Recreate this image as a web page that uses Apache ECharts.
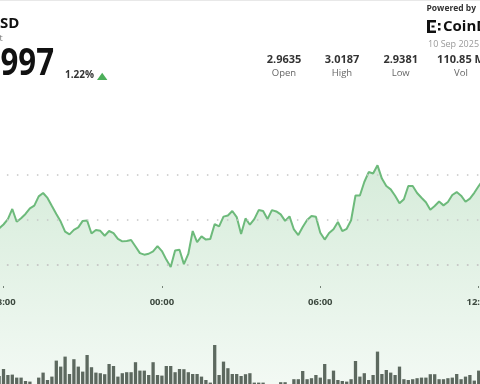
<!DOCTYPE html>
<html><head><meta charset="utf-8">
<script src="https://cdn.jsdelivr.net/npm/echarts@6/dist/echarts.min.js"></script>
<style>html,body{margin:0;padding:0;background:#fff}#c{width:480px;height:384px}</style>
</head><body><div id="c"></div>
<script>
// ---- data ----
const startMinutes = 17 * 60 + 50; // first category 17:50
const stepMinutes = 10;
const prices = [
 2.9762,2.9780,2.9804,2.9849,2.9792,2.9808,2.9827,2.9852,2.9864,2.9905,
 2.9920,2.9898,2.9862,2.9827,2.9793,2.9748,2.9736,2.9756,2.9767,2.9796,
 2.9798,2.9740,2.9756,2.9752,2.9730,2.9751,2.9742,2.9716,2.9705,2.9707,
 2.9711,2.9682,2.9653,2.9646,2.9650,2.9661,2.9684,2.9662,2.9624,2.9591,
 2.9664,2.9668,2.9604,2.9649,2.9751,2.9702,2.9727,2.9713,2.9716,2.9782,
 2.9772,2.9815,2.9820,2.9840,2.9813,2.9738,2.9807,2.9779,2.9804,2.9844,
 2.9840,2.9804,2.9844,2.9838,2.9825,2.9796,2.9816,2.9758,2.9733,2.9769,
 2.9800,2.9818,2.9814,2.9743,2.9713,2.9742,2.9759,2.9791,2.9751,2.9761,
 2.9799,2.9909,2.9909,2.9969,3.0013,3.0007,3.0043,2.9984,2.9951,2.9936,
 2.9908,2.9874,2.9892,2.9951,2.9951,2.9920,2.9899,2.9879,2.9846,2.9862,
 2.9882,2.9865,2.9880,2.9911,2.9924,2.9908,2.9881,2.9895,2.9921,2.9951,
 2.9978
];
const volumes = [
 0.50,0.85,0.55,0.57,0.42,0.42,0.25,0.22,0.08,0.42,
 0.67,0.30,0.47,1.27,0.97,1.47,0.60,1.34,0.97,0.72,
 1.55,0.94,0.67,0.64,0.59,1.10,1.00,0.47,0.64,0.69,
 0.69,1.19,0.77,0.77,0.55,1.19,0.55,0.52,1.00,1.00,
 0.69,0.85,0.84,0.69,0.60,0.60,0.47,0.30,0.17,2.05,
 0.55,1.22,0.89,0.60,0.60,0.50,0.59,0.64,0.17,0.17,
 0.17,0.04,0.04,0.04,0.19,0.19,0.04,0.34,0.34,0.75,
 0.34,0.39,0.55,0.42,1.10,0.34,0.77,0.30,0.25,0.22,
 0.34,1.25,0.47,0.64,0.30,0.55,1.72,0.60,0.80,0.67,
 0.55,0.97,0.34,0.30,0.34,0.39,0.42,0.42,0.59,0.59,
 0.34,0.34,0.39,0.42,0.60,0.34,0.47,0.55,0.27,0.77,
 0.50
];
const tickLabels = ['18:00', '00:00', '06:00', '12:00'];
const gridValues = [3.00, 2.98, 2.96];
const openPrice = 2.9635;
const statValues = ['2.9635', '3.0187', '2.9381', '110.85 M'];
const statLabels = ['Open', 'High', 'Low', 'Vol'];

const categories = prices.map((_, i) => {
  const m = (startMinutes + i * stepMinutes) % 1440;
  return String(Math.floor(m / 60)).padStart(2, '0') + ':' + String(m % 60).padStart(2, '0');
});

// ---- layout ----
const band = 4.4;
const gLeft = -3.1;
const gRight = 480 - (gLeft + band * prices.length);
const FONT = '"Open Sans", sans-serif';
const statX = [284, 342, 400.7, 461];

const showTick = (idx, val) => tickLabels.indexOf(val) >= 0;
const dotted = { color: '#c6c6c6', type: [1.5, 8.5], width: 1.5 };

const graphics = [
  { type: 'rect', shape: { x: 0, y: 0, width: 480, height: 1 }, style: { fill: '#e8e8e8' } },
  { type: 'text', x: 0, y: 24, style: { text: 'SD', font: 'bold 15px ' + FONT, fill: '#111', textAlign: 'left', textVerticalAlign: 'middle' } },
  { type: 'text', x: -0.5, y: 38, style: { text: 't', font: '9px ' + FONT, fill: '#777', textAlign: 'left', textVerticalAlign: 'middle' } },
  { type: 'text', x: 54, y: 64.5, scaleX: 0.82, originX: 0, style: { text: '997', font: 'bold 38px ' + FONT, fill: '#111', textAlign: 'right', textVerticalAlign: 'middle' } },
  { type: 'text', x: 65, y: 75.5, style: { text: '1.22%', font: 'bold 10px ' + FONT, fill: '#333', textAlign: 'left', textVerticalAlign: 'middle' } },
  { type: 'polygon', shape: { points: [[97, 80], [102.2, 72.7], [107.4, 80]] }, style: { fill: '#4caf5a' } },
  { type: 'text', x: 426.5, y: 9, style: { text: 'Powered by', font: 'bold 8.5px ' + FONT, fill: '#333', textAlign: 'left', textVerticalAlign: 'middle' } },
  // logo mark
  { type: 'rect', shape: { x: 427, y: 20, width: 3, height: 13 }, style: { fill: '#111' } },
  { type: 'rect', shape: { x: 427, y: 20, width: 9, height: 2.5 }, style: { fill: '#111' } },
  { type: 'rect', shape: { x: 427, y: 30.5, width: 9, height: 2.5 }, style: { fill: '#111' } },
  { type: 'rect', shape: { x: 431.5, y: 25.5, width: 3, height: 2 }, style: { fill: '#111' } },
  { type: 'rect', shape: { x: 438, y: 23, width: 2.5, height: 2.5 }, style: { fill: '#111' } },
  { type: 'rect', shape: { x: 438, y: 28, width: 2.5, height: 2.5 }, style: { fill: '#111' } },
  { type: 'text', x: 443, y: 27, style: { text: 'CoinD', font: 'bold 15px ' + FONT, fill: '#111', textAlign: 'left', textVerticalAlign: 'middle' } },
  { type: 'text', x: 428, y: 44.5, style: { text: '10 Sep 2025', font: '9px ' + FONT, fill: '#9a9a9a', textAlign: 'left', textVerticalAlign: 'middle' } }
];
statValues.forEach((v, i) => {
  graphics.push({ type: 'text', x: statX[i], y: 60, style: { text: v, font: 'bold 11px ' + FONT, fill: '#333', textAlign: 'center', textVerticalAlign: 'middle' } });
  graphics.push({ type: 'text', x: statX[i], y: 73.5, style: { text: statLabels[i], font: '9.5px ' + FONT, fill: '#666', textAlign: 'center', textVerticalAlign: 'middle' } });
});

const chart = echarts.init(document.getElementById('c'), null, { renderer: 'canvas' });
chart.setOption({
  animation: false,
  backgroundColor: '#fff',
  grid: [
    { left: gLeft, right: gRight, top: 130, bottom: -16, containLabel: false, outerBoundsMode: 'none' },
    { left: gLeft, right: gRight, top: 323, bottom: -2, containLabel: false, outerBoundsMode: 'none' }
  ],
  xAxis: [
    {
      type: 'category', gridIndex: 0, data: categories, boundaryGap: true,
      offset: -114,
      axisLine: { show: false },
      axisTick: { show: true, interval: showTick, alignWithLabel: true, length: 2, lineStyle: { color: '#777' } },
      axisLabel: { interval: showTick, margin: 11, fontFamily: 'Open Sans', fontWeight: 'bold', fontSize: 9.5, color: '#333', hideOverlap: false },
      splitLine: { show: false }
    },
    {
      type: 'category', gridIndex: 1, data: categories, boundaryGap: true, position: 'top',
      axisLine: { show: true, lineStyle: dotted },
      axisTick: { show: false }, axisLabel: { show: false }, splitLine: { show: false }
    }
  ],
  yAxis: [
    { type: 'value', gridIndex: 0, min: 2.90, max: 3.02, show: false, splitLine: { show: false } },
    { type: 'value', gridIndex: 1, min: 0, max: 3.15, show: false, splitLine: { show: false } }
  ],
  series: [
    {
      type: 'line', xAxisIndex: 0, yAxisIndex: 0, data: prices,
      symbol: 'none', smooth: false,
      lineStyle: { color: '#6dba7b', width: 2 },
      areaStyle: {
        color: new echarts.graphic.LinearGradient(0, 0, 0, 1, [
          { offset: 0, color: 'rgba(109,186,123,0.40)' },
          { offset: 1, color: 'rgba(109,186,123,0.10)' }
        ])
      },
      markLine: {
        silent: true, symbol: ['none', 'none'], label: { show: false },
        lineStyle: dotted,
        data: gridValues.map(v => ({ yAxis: v })).concat([{ yAxis: openPrice }])
      }
    },
    {
      type: 'bar', xAxisIndex: 1, yAxisIndex: 1, data: volumes,
      barCategoryGap: '25%',
      itemStyle: { color: '#5b605c' }
    }
  ],
  graphic: graphics
});
</script>
</body></html>
